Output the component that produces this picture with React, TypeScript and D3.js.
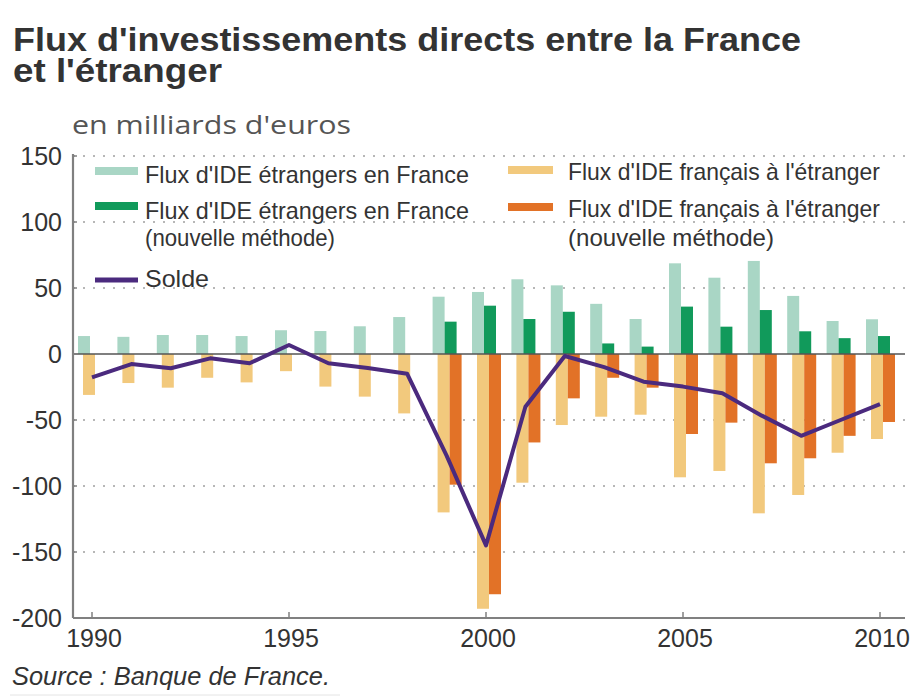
import React from "react";
import * as d3 from "d3";

// years and values (milliards d'euros)
const years = [1990, 1991, 1992, 1993, 1994, 1995, 1996, 1997, 1998, 1999, 2000, 2001, 2002, 2003, 2004, 2005, 2006, 2007, 2008, 2009, 2010];
const ideEtrangers = [13.6, 13, 14.4, 14.4, 13.6, 18, 17.4, 21, 28, 43.4, 47, 56.6, 52, 38, 26.5, 68.7, 57.8, 70.5, 44, 25, 26.3];
const ideEtrangersNouv = [null, null, null, null, null, null, null, null, null, 24.5, 36.6, 26.5, 32, 8, 5.6, 35.9, 20.7, 33.3, 17.2, 12, 13.6];
const ideFrancais = [-31, -22, -25.5, -18, -21.5, -13, -24.7, -32.3, -45, -120, -193, -97.5, -53.8, -47.5, -46, -93.4, -88.6, -120.7, -106.8, -74.8, -64.4];
const ideFrancaisNouv = [null, null, null, null, null, null, null, null, null, -99, -182, -67, -33.6, -18, -25.5, -60.6, -52, -82.8, -79, -62, -51.5];
const solde = [-17.7, -7.6, -10.8, -3.3, -7, 6.8, -7, -10.6, -15, -77, -145, -40, -1.5, -10, -21, -24.7, -29.8, -46.7, -62, -50, -38];

const yTicks = [150, 100, 50, 0, -50, -100, -150, -200];
const xTicks = [1990, 1995, 2000, 2005, 2010];

const C = {
  vertClair: "#a9d6c5",
  vert: "#119a5b",
  jaune: "#f2c97d",
  orange: "#e27227",
  violet: "#4b2a7e",
  texte: "#333333",
  axe: "#808080",
};

const FONT = "'Liberation Sans Narrow', 'Arial Narrow', sans-serif";

export default function App() {
  const width = 914;
  const height = 696;
  const left = 73;
  const right = 905;

  const x = d3.scaleLinear().domain([1990, 2010]).range([92, 880]);
  const y = d3.scaleLinear().domain([-200, 150]).range([618, 156]);
  const barW = 12;

  const line = d3
    .line<number>()
    .x((_, i) => x(years[i]))
    .y((d) => y(d));

  const bar = (v: number | null, xs: number, fill: string, key: string) =>
    v == null ? null : (
      <rect key={key} x={xs} y={Math.min(y(v), y(0))} width={barW} height={Math.abs(y(v) - y(0))} fill={fill} />
    );

  return (
    <div style={{ position: "absolute", left: 0, top: 0 }}>
      <svg width={width} height={height} style={{ display: "block", background: "#fff" }}>
        {/* title, two lines in one block */}
        <text fontFamily={FONT} fontWeight="bold" fontSize={34} fill={C.texte}>
          <tspan x={13} y={51} textLength={788} lengthAdjust="spacingAndGlyphs">
            Flux d'investissements directs entre la France
          </tspan>
          <tspan x={13} y={82} textLength={209} lengthAdjust="spacingAndGlyphs">
            et l'étranger
          </tspan>
        </text>
        <text x={72} y={134} fontFamily="'Open Sans', sans-serif" fontSize={25} fill="#555" textLength={279} lengthAdjust="spacingAndGlyphs">
          en milliards d'euros
        </text>

        {/* grid */}
        {yTicks.filter((t) => t !== 0 && t !== -200).map((t) => (
          <line key={"g" + t} x1={left} x2={right} y1={y(t)} y2={y(t)} stroke="#a0a0a0" strokeWidth={1.6} strokeDasharray="2 8" />
        ))}

        {/* bars */}
        {years.map((yr, i) => (
          <g key={yr}>
            {bar(ideEtrangers[i], x(yr) - 14, C.vertClair, "a")}
            {bar(ideEtrangersNouv[i], x(yr) - 2, C.vert, "b")}
            {bar(ideFrancais[i], x(yr) - 9, C.jaune, "c")}
            {bar(ideFrancaisNouv[i], x(yr) + 3, C.orange, "d")}
          </g>
        ))}

        {/* zero line */}
        <line x1={left} x2={right} y1={y(0)} y2={y(0)} stroke="#555" strokeWidth={1.3} />

        {/* solde */}
        <path d={line(solde) || ""} fill="none" stroke={C.violet} strokeWidth={4} strokeLinejoin="round" />

        {/* axes */}
        <line x1={left} x2={left} y1={y(150) - 2} y2={y(-200)} stroke={C.axe} strokeWidth={2.2} />
        <line x1={left} x2={right} y1={y(-200)} y2={y(-200)} stroke={C.axe} strokeWidth={2.2} />
        {yTicks.map((t) => (
          <g key={"yt" + t}>
            <line x1={left} x2={left + 4} y1={y(t)} y2={y(t)} stroke={C.axe} strokeWidth={1.5} />
            <text x={62} y={y(t) + 9} textAnchor="end" fontFamily={FONT} fontSize={25} fill={C.texte}>
              {t}
            </text>
          </g>
        ))}
        {xTicks.map((t) => (
          <g key={"xt" + t}>
            <line x1={x(t)} x2={x(t)} y1={y(-200)} y2={y(-200) - 6} stroke={C.axe} strokeWidth={1.5} />
            <text x={x(t) + 2} y={647} textAnchor="middle" fontFamily={FONT} fontSize={25} fill={C.texte}>
              {t}
            </text>
          </g>
        ))}

        {/* legend */}
        <line x1={95} x2={138} y1={171} y2={171} stroke={C.vertClair} strokeWidth={8} />
        <text x={145} y={183} fontFamily={FONT} fontSize={24} fill={C.texte} textLength={324} lengthAdjust="spacingAndGlyphs">
          Flux d'IDE étrangers en France
        </text>
        <line x1={95} x2={138} y1={206} y2={206} stroke={C.vert} strokeWidth={8} />
        <text x={145} y={219} fontFamily={FONT} fontSize={24} fill={C.texte} textLength={324} lengthAdjust="spacingAndGlyphs">
          Flux d'IDE étrangers en France
        </text>
        <text x={145} y={246} fontFamily={FONT} fontSize={24} fill={C.texte} textLength={190} lengthAdjust="spacingAndGlyphs">
          (nouvelle méthode)
        </text>
        <line x1={95} x2={138} y1={280} y2={280} stroke={C.violet} strokeWidth={5} />
        <text x={145} y={287} fontFamily={FONT} fontSize={24} fill={C.texte} textLength={64} lengthAdjust="spacingAndGlyphs">
          Solde
        </text>

        <line x1={508} x2={553} y1={170} y2={170} stroke={C.jaune} strokeWidth={8} />
        <text x={568} y={180} fontFamily={FONT} fontSize={24} fill={C.texte} textLength={312} lengthAdjust="spacingAndGlyphs">
          Flux d'IDE français à l'étranger
        </text>
        <line x1={508} x2={553} y1={207} y2={207} stroke={C.orange} strokeWidth={8} />
        <text x={568} y={217} fontFamily={FONT} fontSize={24} fill={C.texte} textLength={312} lengthAdjust="spacingAndGlyphs">
          Flux d'IDE français à l'étranger
        </text>
        <text x={568} y={246} fontFamily={FONT} fontSize={24} fill={C.texte} textLength={206} lengthAdjust="spacingAndGlyphs">
          (nouvelle méthode)
        </text>

        {/* source */}
        <text x={12} y={685} fontFamily={FONT} fontStyle="italic" fontSize={25} fill={C.texte} textLength={318} lengthAdjust="spacingAndGlyphs">
          Source : Banque de France.
        </text>
        <line x1={10} x2={340} y1={695} y2={695} stroke="#e4e4e4" strokeWidth={1} />
      </svg>
    </div>
  );
}
